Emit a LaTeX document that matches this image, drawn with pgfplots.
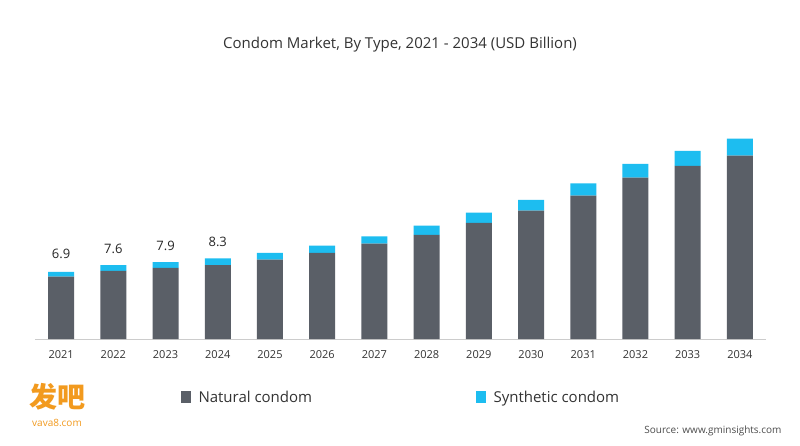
\documentclass[border=0pt]{standalone}
\usepackage{pgfplots}
\pgfplotsset{compat=1.18}
\usepackage{fontspec}
\setmainfont{Open Sans}
\newfontfamily\cjk{Noto Sans CJK SC}
\definecolor{nat}{HTML}{5A5F67}
\definecolor{syn}{HTML}{1DBDF0}
\definecolor{wm}{HTML}{F29A1E}
\begin{document}
\begin{tikzpicture}[x=1pt,y=1pt]
\path[use as bounding box,fill=white] (0,0) rectangle (800,445);
\node[font=\fontsize{15}{18}\selectfont,text=black!80] at (400,400) {Condom Market, By Type, 2021 - 2034 (USD Billion)};
\begin{axis}[at={(35pt,106pt)},scale only axis,width=731pt,height=214pt,
  anchor=south west,
  ybar stacked,bar width=26pt,
  xmin=-0.5,xmax=13.5,ymin=0,ymax=22,
  axis y line=none,axis x line*=bottom,
  x axis line style={black!20},
  xtick=data,xticklabels={2021,2022,2023,2024,2025,2026,2027,2028,2029,2030,2031,2032,2033,2034},
  tick style={draw=none},
  xticklabel style={font=\fontsize{11}{13}\selectfont,text=black!80,yshift=-8pt},
  /pgf/number format/assume math mode=true,
  clip=false]
\addplot[fill=nat,draw=none] coordinates {(0,6.4)(1,7.0)(2,7.3)(3,7.6)(4,8.15)(5,8.85)(6,9.8)(7,10.7)(8,11.95)(9,13.2)(10,14.75)(11,16.6)(12,17.8)(13,18.85)};
\addplot[fill=syn,draw=none] coordinates {(0,0.5)(1,0.6)(2,0.6)(3,0.7)(4,0.7)(5,0.75)(6,0.75)(7,0.95)(8,1.05)(9,1.1)(10,1.25)(11,1.4)(12,1.55)(13,1.75)};
\node[font=\fontsize{13}{15}\selectfont,text=black!85] at (axis cs:0,8.7) {6.9};
\node[font=\fontsize{13}{15}\selectfont,text=black!85] at (axis cs:1,9.3) {7.6};
\node[font=\fontsize{13}{15}\selectfont,text=black!85] at (axis cs:2,9.6) {7.9};
\node[font=\fontsize{13}{15}\selectfont,text=black!85] at (axis cs:3,10.0) {8.3};
\end{axis}
\fill[nat] (181,42) rectangle (191,54);
\node[anchor=base west,font=\fontsize{15}{18}\selectfont,text=black!80] at (195,43) {Natural condom};
\fill[syn] (476,42) rectangle (486,54);
\node[anchor=base west,font=\fontsize{15}{18}\selectfont,text=black!80] at (490,43) {Synthetic condom};
\node[anchor=east,font=\fontsize{10}{12}\selectfont,text=black!70] at (785,14) {Source: www.gminsights.com};
\node[font=\cjk\bfseries\fontsize{28}{30}\selectfont,text=wm] at (57,48) {发吧};
\node[font=\fontsize{10}{12}\selectfont,text=wm] at (57,22) {vava8.com};
\end{tikzpicture}
\end{document}
